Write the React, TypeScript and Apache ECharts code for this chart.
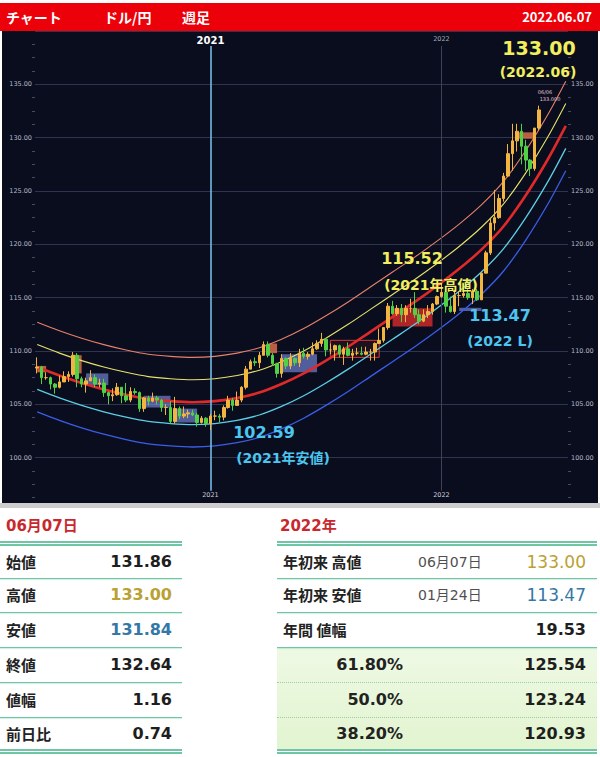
import React, { useEffect, useRef } from 'react';
import * as echarts from 'echarts';

// ---------- axis domain: weekly slots starting 2020-04-06 ----------
const START_UTC = Date.UTC(2020, 3, 6);
const WEEK_SLOTS = 120;
const weeks: string[] = [];
for (let i = 0; i < WEEK_SLOTS; i++) {
  weeks.push(new Date(START_UTC + i * 7 * 86400000).toISOString().slice(0, 10));
}
const yearStartWeeks = ['2021-01-04', '2022-01-03'];
const yTicks = [100, 105, 110, 115, 120, 125, 130, 135];

// ---------- weekly USD/JPY candles ----------
const opens = [
  // 2020
  108.4, 108.5, 107.5, 107.5, 106.9, 106.6, 107.1, 107.6, 107.8, 109.6, 107.4, 106.9, 107.2, 107.5, 106.9, 107.0,
  106.1, 105.8, 105.9, 106.6, 105.8, 105.4, 106.2, 106.1, 104.6, 105.6, 105.3, 105.6, 105.4, 104.7, 104.7, 103.4,
  104.6, 103.9, 104.1, 104.2, 104.0, 103.3, 103.7,
  // 2021
  103.2, 103.9, 103.9, 103.8, 104.7, 105.4, 104.9, 105.4, 106.6, 108.3, 109.0, 108.9, 109.6, 110.6, 109.6, 108.8,
  107.9, 109.3, 108.6, 109.3, 108.9, 109.8, 109.5, 109.7, 110.2, 110.7, 111.1, 110.1, 110.1, 110.5, 109.7, 110.2,
  109.6, 109.8, 109.8, 109.7, 109.9, 109.9, 110.7, 111.0, 112.2, 114.2, 113.5, 114.0, 113.4, 114.0, 114.0, 113.4,
  112.8, 113.4, 113.7, 114.4,
  // 2022
  115.1, 115.5, 114.2, 113.7, 115.2, 115.2, 115.4, 115.0, 115.6, 114.8, 117.3, 119.2, 122.0, 122.5, 124.3, 126.4,
  128.5, 129.7, 130.6, 129.2, 127.9, 127.1, 130.9,
];
const closes = [
  108.5, 107.5, 107.5, 106.9, 106.6, 107.1, 107.6, 107.8, 109.6, 107.4, 106.9, 107.2, 107.5, 106.9, 107.0, 106.1,
  105.8, 105.9, 106.6, 105.8, 105.4, 106.2, 106.1, 104.6, 105.6, 105.3, 105.6, 105.4, 104.7, 104.7, 103.4, 104.6,
  103.9, 104.1, 104.2, 104.0, 103.3, 103.7, 103.2,
  103.9, 103.9, 103.8, 104.7, 105.4, 104.9, 105.4, 106.6, 108.3, 109.0, 108.9, 109.6, 110.6, 109.6, 108.8, 107.9,
  109.3, 108.6, 109.3, 108.9, 109.8, 109.5, 109.7, 110.2, 110.7, 111.1, 110.1, 110.1, 110.5, 109.7, 110.2, 109.6,
  109.8, 109.8, 109.7, 109.9, 109.9, 110.7, 111.0, 112.2, 114.2, 113.5, 114.0, 113.4, 114.0, 114.0, 113.4, 112.8,
  113.4, 113.7, 114.4, 115.1,
  115.5, 114.2, 113.7, 115.2, 115.2, 115.4, 115.0, 115.6, 114.8, 117.3, 119.2, 122.0, 122.5, 124.3, 126.4, 128.5,
  129.7, 130.6, 129.2, 127.9, 127.1, 130.9, 132.6,
];
const highs = [
  109.4, 108.6, 108.0, 107.6, 107.0, 107.7, 108.1, 108.1, 109.9, 109.8, 107.6, 107.5, 108.2, 107.8, 107.4, 107.4,
  106.2, 106.5, 107.0, 106.6, 107.0, 106.6, 106.5, 106.2, 105.7, 105.8, 106.1, 105.8, 105.5, 105.0, 105.3, 105.7,
  104.8, 104.8, 104.5, 104.5, 104.2, 103.9, 103.8,
  104.1, 104.4, 104.1, 104.9, 105.8, 105.6, 106.2, 106.7, 108.6, 109.2, 109.4, 109.9, 110.9, 110.9, 109.8, 108.9,
  109.7, 109.4, 109.8, 109.4, 110.2, 110.3, 109.9, 110.8, 111.0, 111.7, 111.2, 110.7, 110.6, 110.6, 110.4, 110.8,
  110.2, 110.3, 110.4, 110.4, 110.2, 110.8, 112.1, 112.2, 114.5, 114.7, 114.3, 114.4, 114.3, 114.9, 115.52, 113.9,
  113.9, 114.3, 114.5, 115.2,
  116.4, 115.8, 115.1, 115.7, 115.6, 116.3, 115.8, 115.8, 115.8, 117.3, 119.4, 122.4, 125.1, 124.7, 126.7, 129.4,
  131.3, 131.3, 131.3, 129.8, 128.0, 130.9, 133.0,
];
const lows = [
  107.9, 106.9, 107.3, 106.4, 106.0, 106.5, 107.1, 107.1, 107.6, 106.6, 106.6, 106.1, 107.2, 106.6, 106.6, 105.7,
  105.0, 105.3, 105.8, 105.1, 105.2, 105.2, 105.9, 104.3, 104.3, 104.9, 105.2, 105.0, 104.3, 104.0, 103.2, 103.2,
  103.6, 103.7, 103.7, 103.9, 102.9, 103.2, 102.9,
  102.59, 103.5, 103.3, 103.5, 104.6, 104.4, 104.9, 105.2, 106.4, 108.3, 108.6, 108.4, 109.6, 109.4, 108.6, 107.5,
  107.5, 108.3, 108.3, 108.6, 108.5, 109.3, 109.2, 109.6, 110.1, 110.4, 109.5, 109.7, 109.1, 109.4, 108.7, 109.5,
  109.1, 109.6, 109.6, 109.6, 109.1, 109.1, 110.7, 110.8, 112.0, 113.4, 113.3, 112.7, 112.7, 113.6, 113.1, 112.5,
  112.7, 113.1, 113.4, 114.3,
  115.0, 113.6, 113.6, 113.47, 114.2, 115.0, 114.8, 114.4, 114.7, 114.8, 117.3, 119.0, 121.3, 122.4, 124.0, 126.3,
  126.9, 128.7, 127.5, 126.9, 126.4, 126.9, 130.7,
];

// ---------- regression bands, read at sample weeks ----------
const bandIdx = [0, 5, 10, 15, 20, 25, 30, 35, 40, 45, 50, 55, 60, 65, 70, 75, 80, 85, 90, 95, 100, 105, 110, 115, 119];
const bandUpper2 = [112.7, 111.9, 111.2, 110.6, 110.1, 109.7, 109.5, 109.4, 109.5, 109.8, 110.3, 111.1, 112.1, 113.3, 114.6, 116.0, 117.4, 118.8, 120.3, 121.9, 123.7, 125.9, 128.8, 132.2, 135.3];
const bandUpper1 = [110.6, 109.8, 109.1, 108.5, 108.0, 107.6, 107.4, 107.3, 107.4, 107.7, 108.2, 109.0, 110.0, 111.2, 112.5, 113.9, 115.3, 116.7, 118.2, 119.8, 121.6, 123.8, 126.7, 130.1, 133.2];
const bandMid = [108.5, 107.7, 107.0, 106.4, 105.9, 105.5, 105.3, 105.2, 105.3, 105.6, 106.1, 106.9, 107.9, 109.1, 110.4, 111.8, 113.2, 114.6, 116.1, 117.7, 119.5, 121.7, 124.6, 128.0, 131.1];
const bandLower1 = [106.4, 105.6, 104.9, 104.3, 103.8, 103.4, 103.2, 103.1, 103.2, 103.5, 104.0, 104.8, 105.8, 107.0, 108.3, 109.7, 111.1, 112.5, 114.0, 115.6, 117.4, 119.6, 122.5, 125.9, 129.0];
const bandLower2 = [104.3, 103.5, 102.8, 102.2, 101.7, 101.3, 101.1, 101.0, 101.1, 101.4, 101.9, 102.7, 103.7, 104.9, 106.2, 107.6, 109.0, 110.4, 111.9, 113.5, 115.3, 117.5, 120.4, 123.8, 126.9];

// ---------- range boxes ----------
const boxStart = [0, 8, 11, 24, 31, 52, 55, 66, 80, 95, 108];
const boxEnd = [2, 10, 16, 30, 36, 54, 63, 77, 89, 100, 112];
const boxLow = [108.0, 107.9, 106.8, 104.7, 103.3, 109.8, 108.0, 109.4, 112.3, 113.75, 129.9];
const boxHigh = [108.6, 109.6, 107.9, 105.8, 104.6, 110.7, 109.7, 111.0, 114.0, 114.05, 130.5];
const boxKind = ['up', 'up', 'down', 'down', 'down', 'up', 'down', 'range', 'high', 'down', 'up'];

// ---------- tables ----------
const dayTitle = '06月07日';
const dayLabels = ['始値', '高値', '安値', '終値', '値幅', '前日比'];
const dayValues = ['131.86', '133.00', '131.84', '132.64', '1.16', '0.74'];
const yearTitle = '2022年';
const yearLabels = ['年初来 高値', '年初来 安値', '年間 値幅'];
const yearDates = ['06月07日', '01月24日', ''];
const yearValues = ['133.00', '113.47', '19.53'];
const fiboLabels = ['61.80%', '50.0%', '38.20%'];
const fiboValues = ['125.54', '123.24', '120.93'];

const NUM_FONT = '"DejaVu Sans", "Noto Sans CJK JP", sans-serif';
const JP_FONT = '"Noto Sans CJK JP", "DejaVu Sans", sans-serif';
const YELLOW = '#f2ef5e';
const CYAN = '#4cc6ef';
const LINE = '#6fc6a4';
const GOLD = '#b9a133';
const BLUE = '#3577a6';

const rowTops = [546, 578, 612, 647, 682, 717, 750];

function Chart() {
  const ref = useRef<HTMLDivElement>(null);
  useEffect(() => {
    if (!ref.current) return;
    const chart = echarts.init(ref.current, undefined, { renderer: 'svg' });
    const candleData = opens.map((o, i) => [o, closes[i], lows[i], highs[i]]);
    const band = (vals: number[]) => bandIdx.map((x, k) => [x, vals[k]]);
    const boxFill = (k: string) =>
      k === 'up' ? 'rgba(236,118,78,0.78)' : k === 'down' ? 'rgba(128,146,232,0.62)' : k === 'high' ? 'rgba(214,44,44,0.8)' : 'rgba(210,50,50,0.10)';
    const boxes = boxStart.map((s, k) => [
      {
        xAxis: weeks[s],
        yAxis: boxLow[k],
        itemStyle: {
          color: boxFill(boxKind[k]),
          borderColor: boxKind[k] === 'range' ? '#d23a3a' : 'rgba(0,0,0,0)',
          borderWidth: boxKind[k] === 'range' ? 1 : 0,
        },
      },
      { xAxis: weeks[boxEnd[k]], yAxis: boxHigh[k] },
    ]);
    const lineTop = 138.6;
    const lineBottom = 96.9;
    const yearLines = yearStartWeeks.map((w, k) => [
      { coord: [w, lineTop], lineStyle: { color: k === 0 ? '#7cc4ee' : '#3c425c', width: k === 0 ? 1.5 : 1, type: 'solid' } },
      { coord: [w, lineBottom] },
    ]);
    const isYearStart = (i: number) => yearStartWeeks.indexOf(weeks[i]) >= 0;
    const bandSeries = (name: string, vals: number[], color: string, width: number) => ({
      name,
      type: 'line',
      data: band(vals),
      smooth: 0.3,
      symbol: 'none',
      silent: true,
      z: 3,
      lineStyle: { color, width },
    });
    const txt = (text: string, x: number, y: number, size: number, fill: string) => ({
      type: 'text',
      x,
      y,
      silent: true,
      z: 100,
      style: {
        text,
        fill,
        font: `bold ${size}px "DejaVu Sans", "Noto Sans CJK JP", sans-serif`,
        textAlign: 'center',
        textVerticalAlign: 'middle',
        align: 'center',
        verticalAlign: 'middle',
      },
    });
    const smallTxt = (text: string, x: number, y: number) => ({
      type: 'text',
      x,
      y,
      silent: true,
      z: 100,
      style: {
        text,
        fill: '#e6c4d4',
        font: `5px "DejaVu Sans", sans-serif`,
        textAlign: 'center',
        textVerticalAlign: 'middle',
        align: 'center',
        verticalAlign: 'middle',
      },
    });
    const yAxisBase = {
      type: 'value',
      min: 95,
      max: 140,
      interval: 5,
      axisLine: { show: false },
      axisTick: { show: false },
      minorTick: { show: true, splitNumber: 4, length: 3, lineStyle: { color: '#454a62', width: 1 } },
      axisLabel: {
        formatter: (v: number) => (yTicks.indexOf(v) >= 0 ? v.toFixed(2) : ''),
        fontSize: 6.5,
        color: '#b4b8c6',
        margin: 3,
        showMinLabel: false,
        showMaxLabel: false,
        fontFamily: '"DejaVu Sans", sans-serif',
      },
    };
    chart.setOption({
      animation: false,
      backgroundColor: '#0a0d1e',
      textStyle: { fontFamily: '"DejaVu Sans", "Noto Sans CJK JP", sans-serif' },
      grid: { left: 33, right: 30, top: 0, height: 480 },
      xAxis: [
        {
          type: 'category',
          data: weeks,
          boundaryGap: true,
          position: 'bottom',
          axisLine: { show: false },
          axisTick: { show: false },
          splitLine: { show: false },
          axisLabel: {
            inside: true,
            interval: (i: number) => isYearStart(i),
            formatter: (v: string) => v.slice(0, 4),
            fontSize: 6.5,
            color: '#c8ccd8',
            margin: 13,
          },
        },
        {
          type: 'category',
          data: weeks,
          boundaryGap: true,
          position: 'top',
          axisLine: { show: false },
          axisTick: { show: false },
          splitLine: { show: false },
          axisLabel: {
            inside: true,
            interval: (i: number) => isYearStart(i),
            formatter: (v: string) => (v.slice(0, 4) === '2021' ? '{a|2021}' : '{b|' + v.slice(0, 4) + '}'),
            margin: 4,
            rich: {
              a: { fontSize: 10, fontWeight: 'bold', color: '#ffffff', fontFamily: '"DejaVu Sans", sans-serif' },
              b: { fontSize: 6.5, color: '#a4a8b8', fontFamily: '"DejaVu Sans", sans-serif' },
            },
          },
        },
      ],
      yAxis: [
        { ...yAxisBase, position: 'left', splitLine: { show: true, lineStyle: { color: '#2f354e', width: 1 } } },
        { ...yAxisBase, position: 'right', splitLine: { show: false } },
      ],
      series: [
        {
          name: 'boxes',
          type: 'line',
          data: [],
          silent: true,
          z: 1,
          markArea: { silent: true, data: boxes },
          markLine: {
            silent: true,
            symbol: ['none', 'none'],
            label: { show: false },
            data: yearLines,
          },
        },
        bandSeries('upper2', bandUpper2, '#e8806a', 1.1),
        bandSeries('upper1', bandUpper1, '#e6e36a', 1.1),
        bandSeries('mid', bandMid, '#e02a2a', 2.6),
        bandSeries('lower1', bandLower1, '#5ccfe6', 1.3),
        bandSeries('lower2', bandLower2, '#3a5ee8', 1.3),
        {
          name: 'USDJPY',
          type: 'candlestick',
          data: candleData,
          barWidth: 3,
          z: 5,
          itemStyle: {
            color: '#f2b640',
            color0: '#52d046',
            borderColor: '#f2b640',
            borderColor0: '#52d046',
            borderWidth: 1,
          },
        },
      ],
      graphic: [
        txt('133.00', 537, 16.5, 19, YELLOW),
        txt('(2022.06)', 536, 40.5, 14, YELLOW),
        txt('115.52', 410, 227.5, 16, YELLOW),
        txt('(2021年高値)', 429, 254, 14, YELLOW),
        txt('113.47', 498, 284, 16, CYAN),
        txt('(2022 L)', 498, 310, 14, CYAN),
        txt('102.59', 262, 401, 16, CYAN),
        txt('(2021年安値)', 281, 427, 14, CYAN),
        smallTxt('06/06', 543, 61),
        smallTxt('133.000', 548, 68),
      ],
    });
    return () => chart.dispose();
  }, []);
  return <div ref={ref} style={{ width: 596, height: 480 }} />;
}

const abs = (extra: React.CSSProperties): React.CSSProperties => ({ position: 'absolute', ...extra });

function HLine({ x, w, y, dotted }: { x: number; w: number; y: number; dotted?: boolean }) {
  return (
    <div
      style={abs({
        left: x,
        top: y,
        width: w,
        height: 0,
        borderTop: dotted ? '1px dotted #9ccfa4' : `1px solid ${LINE}`,
        boxShadow: dotted ? 'none' : '0 1px 1px rgba(111,198,164,0.35)',
      })}
    />
  );
}

function DoubleLine({ x, w, y }: { x: number; w: number; y: number }) {
  return (
    <>
      <div style={abs({ left: x, top: y, width: w, height: 2, background: LINE })} />
      <div style={abs({ left: x, top: y + 3, width: w, height: 1.5, background: LINE })} />
    </>
  );
}

function valueColor(label: string) {
  if (label.indexOf('高値') >= 0) return GOLD;
  if (label.indexOf('安値') >= 0) return BLUE;
  return '#1e1e1e';
}

export default function App() {
  const L = { x: 0, w: 182 };
  const R = { x: 277, w: 320 };
  const rowCenter = (i: number) => (rowTops[i] + rowTops[i + 1]) / 2;
  const cell = (text: string, style: React.CSSProperties, key: string) => (
    <div key={key} style={abs({ whiteSpace: 'nowrap', lineHeight: '20px', height: 20, ...style })}>
      {text}
    </div>
  );
  return (
    <div style={abs({ left: 0, top: 0, width: 600, height: 757, background: '#ffffff', overflow: 'hidden' })}>
      {/* header */}
      <div style={abs({ left: 0, top: 3, width: 600, height: 28, background: '#ec0009' })} />
      {cell('チャート', { left: 6, top: 7, color: '#fff', fontSize: 14, fontWeight: 'bold', fontFamily: JP_FONT }, 'h1')}
      {cell('ドル/円', { left: 104, top: 7, color: '#fff', fontSize: 14, fontWeight: 'bold', fontFamily: JP_FONT }, 'h2')}
      {cell('週足', { left: 182, top: 7, color: '#fff', fontSize: 14, fontWeight: 'bold', fontFamily: JP_FONT }, 'h3')}
      {cell('2022.06.07', { right: 8, top: 7, color: '#fff', fontSize: 13, fontWeight: 'bold', fontFamily: JP_FONT }, 'h4')}

      {/* chart */}
      <div style={abs({ left: 2, top: 31, width: 596, height: 472, overflow: 'hidden', background: '#0a0d1e' })}>
        <Chart />
      </div>
      <div style={abs({ left: 0, top: 503, width: 600, height: 5, background: '#cdcdcd' })} />

      {/* left table */}
      {cell(dayTitle, { left: 6, top: 516, color: '#c8282d', fontSize: 15, fontWeight: 'bold', fontFamily: NUM_FONT }, 'lt')}
      <DoubleLine x={L.x} w={L.w} y={541} />
      {dayLabels.map((lab, i) =>
        cell(lab, { left: 6, top: rowCenter(i) - 10, color: '#222', fontSize: 15, fontWeight: 'bold', fontFamily: JP_FONT }, 'll' + i)
      )}
      {dayValues.map((v, i) =>
        cell(
          v,
          { right: 600 - 172, top: rowCenter(i) - 10, color: valueColor(dayLabels[i]), fontSize: 16, fontWeight: 'bold', fontFamily: NUM_FONT, textAlign: 'right' },
          'lv' + i
        )
      )}
      {[1, 2, 3, 4, 5].map((i) => (
        <HLine key={'lh' + i} x={L.x} w={L.w} y={rowTops[i]} />
      ))}
      <DoubleLine x={L.x} w={L.w} y={749} />

      {/* right table */}
      {cell(yearTitle, { left: 280, top: 516, color: '#c8282d', fontSize: 15, fontWeight: 'bold', fontFamily: NUM_FONT }, 'rt')}
      <div style={abs({ left: R.x, top: rowTops[3], width: R.w, height: rowTops[6] - rowTops[3], background: 'linear-gradient(#eef9e4, #e2f4d0)' })} />
      <DoubleLine x={R.x} w={R.w} y={541} />
      {yearLabels.map((lab, i) =>
        cell(lab, { left: 283, top: rowCenter(i) - 10, color: '#222', fontSize: 15, fontWeight: 'bold', fontFamily: JP_FONT }, 'rl' + i)
      )}
      {yearDates.map((d, i) =>
        cell(d, { left: 418, top: rowCenter(i) - 10, color: '#505050', fontSize: 14, fontFamily: NUM_FONT }, 'rd' + i)
      )}
      {yearValues.map((v, i) =>
        cell(
          v,
          {
            right: 600 - 586,
            top: rowCenter(i) - 10,
            color: valueColor(yearLabels[i]),
            fontSize: i < 2 ? 17 : 16,
            fontWeight: i < 2 ? 'normal' : 'bold',
            fontFamily: NUM_FONT,
            textAlign: 'right',
          },
          'rv' + i
        )
      )}
      {fiboLabels.map((p, i) =>
        cell(p, { right: 600 - 403, top: rowCenter(i + 3) - 10, color: '#222', fontSize: 16, fontWeight: 'bold', fontFamily: NUM_FONT, textAlign: 'right' }, 'fl' + i)
      )}
      {fiboValues.map((v, i) =>
        cell(v, { right: 600 - 586, top: rowCenter(i + 3) - 10, color: '#1e1e1e', fontSize: 16, fontWeight: 'bold', fontFamily: NUM_FONT, textAlign: 'right' }, 'fv' + i)
      )}
      {[1, 2, 3].map((i) => (
        <HLine key={'rh' + i} x={R.x} w={R.w} y={rowTops[i]} />
      ))}
      {[4, 5].map((i) => (
        <HLine key={'rdh' + i} x={R.x} w={R.w} y={rowTops[i]} dotted />
      ))}
      <DoubleLine x={R.x} w={R.w} y={749} />
    </div>
  );
}
